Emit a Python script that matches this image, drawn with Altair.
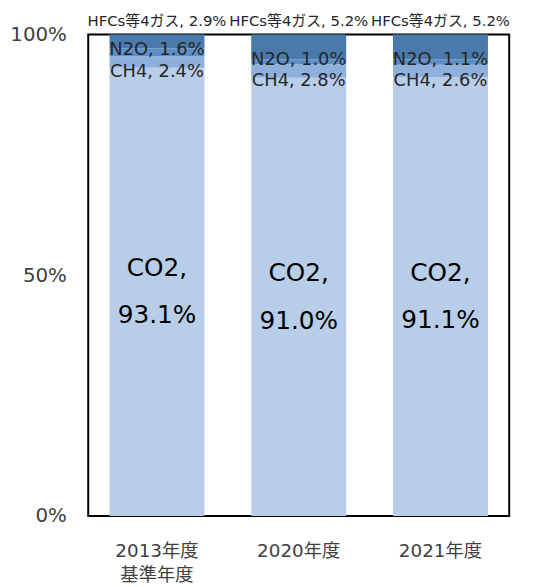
import altair as alt
import pandas as pd

years = ["2013年度\n基準年度", "2020年度", "2021年度"]
gases = ["CO2", "CH4", "N2O", "HFCs等4ガス"]
co2 = [93.1, 91.0, 91.1]
ch4 = [2.4, 2.8, 2.6]
n2o = [1.6, 1.0, 1.1]
hfcs = [2.9, 5.2, 5.2]
colors = ["#b8cde8", "#8db0dc", "#5b8fc8", "#4a7aab"]

rows = []
for gi, (g, vals) in enumerate(zip(gases, [co2, ch4, n2o, hfcs])):
    for y, v in zip(years, vals):
        rows.append({"year": y, "gas": g, "value": v, "rank": gi})
df = pd.DataFrame(rows)

FONT = "DejaVu Sans, Noto Sans CJK JP"

base = alt.Chart(df).transform_stack(
    stack="value", groupby=["year"], as_=["v0", "v1"],
    sort=[alt.SortField("rank", order="ascending")]
).transform_calculate(
    mid="(datum.v0 + datum.v1) / 2",
    lab="datum.gas + ', ' + format(datum.value, '.1f') + '%'",
    lab2="datum.gas + ',\\n' + format(datum.value, '.1f') + '%'",
)

xenc = alt.X("year:N", sort=years, scale=alt.Scale(paddingInner=0.33, paddingOuter=0.15),
             axis=alt.Axis(title=None, labelAngle=0, domain=False, ticks=False,
                           labelExpr="split(datum.label, '\\n')",
                           labelFontSize=18.5, labelFont=FONT, labelColor="#404040",
                           labelPadding=26, labelLineHeight=24))

bars = base.mark_bar().encode(
    x=xenc,
    y=alt.Y("v0:Q", scale=alt.Scale(domain=[0, 100]),
            axis=alt.Axis(title=None, values=[0, 50, 100], labelExpr="datum.value + '%'",
                          grid=False, domain=False, ticks=False, labelFontSize=20,
                          labelFont=FONT, labelColor="#404040", labelPadding=22)),
    y2="v1:Q",
    color=alt.Color("gas:N", scale=alt.Scale(domain=gases, range=colors), legend=None),
)

co2_text = base.transform_filter("datum.gas == 'CO2'").mark_text(
    fontSize=25, font=FONT, color="#000000", lineBreak="\n", lineHeight=48,
    baseline="middle", dy=-24
).encode(x=alt.X("year:N", sort=years), y=alt.Y("mid:Q"), text="lab2:N")

ch4_text = base.transform_filter("datum.gas == 'CH4'").mark_text(
    fontSize=18, font=FONT, color="#262626", dy=10
).encode(x=alt.X("year:N", sort=years), y=alt.Y("mid:Q"), text="lab:N")

n2o_text = base.transform_filter("datum.gas == 'N2O'").mark_text(
    fontSize=18, font=FONT, color="#262626", dy=-2
).encode(x=alt.X("year:N", sort=years), y=alt.Y("mid:Q"), text="lab:N")

hfc_text = base.transform_filter("datum.gas == 'HFCs等4ガス'").mark_text(
    fontSize=15, font=FONT, color="#262626", dy=-14
).encode(x=alt.X("year:N", sort=years), y=alt.datum(100), text="lab:N")

chart = alt.layer(bars, co2_text, ch4_text, n2o_text, hfc_text).properties(
    width=425, height=486,
    autosize=alt.AutoSizeParams(type="none"),
    padding={"left": 81, "top": 24, "right": 22, "bottom": 68},
).configure_view(stroke="black", strokeWidth=2)

chart.save("out.html", embed_options={"renderer": "svg", "actions": False})
